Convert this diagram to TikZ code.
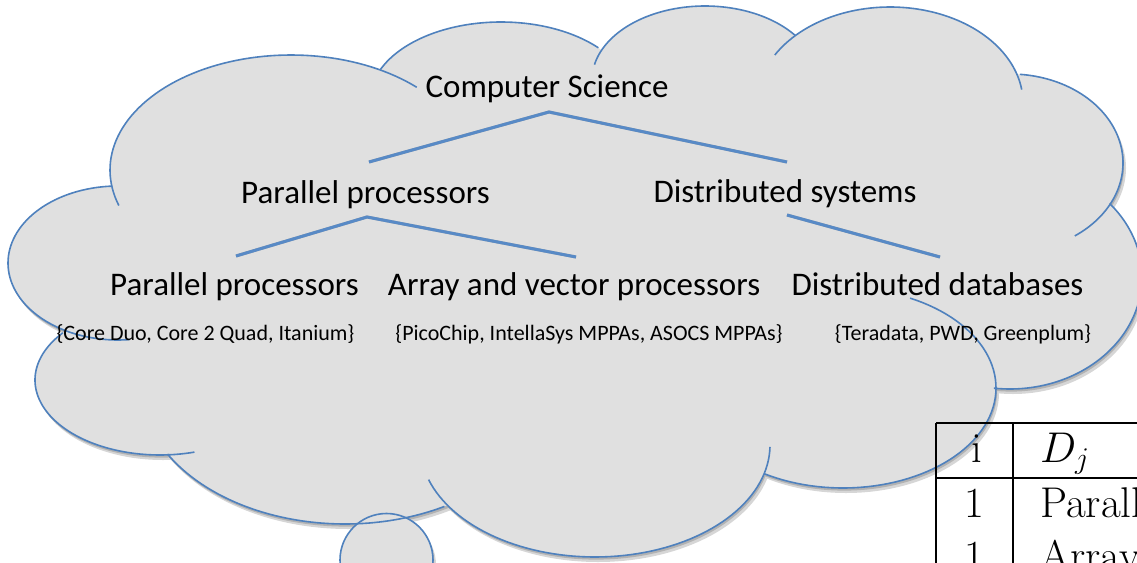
\RequirePackage{fix-cm}
\documentclass[tikz,border=0pt]{standalone}
\usepackage{fontspec}
\newfontfamily\calibri{Carlito}
\definecolor{cloudfill}{RGB}{224,224,224}
\definecolor{cloudline}{RGB}{79,129,189}
\definecolor{treeline}{RGB}{88,138,198}
\definecolor{shadowA}{RGB}{214,214,214}
\definecolor{shadowB}{RGB}{178,178,178}
\tikzset{
  lvl/.style={font=\calibri\fontsize{33}{40}\selectfont, inner sep=0pt, anchor=base},
  sub/.style={font=\calibri\fontsize{22}{26}\selectfont, inner sep=0pt, anchor=base},
  tabtxt/.style={font=\fontsize{43}{51}\selectfont, inner sep=0pt},
  edge/.style={draw=cloudline, line width=1.6pt},
  tree/.style={draw=treeline, line width=3pt},
  treeshadow/.style={draw=black, opacity=0.25, line width=3pt},
  tabline/.style={draw=black, line width=1.3pt}
}
\def\lobes{291/170/181/115/162/314, 501/100/131/78/203/318, 705/80/113/74/192/323, 890/103/133/96/210/352, 1010/163/113/89/-85/55, 1010/277/132/112/-41/97, 843/388/153/100/-64/121, 595/445/175/112/1/162, 345/384/205/140/61/150, 160/380/125/75/74/219, 118/263/110/77/84/267}
\begin{document}
\begin{tikzpicture}[x=1pt,y=-1pt]
\useasboundingbox (0,0) rectangle (1137,562);
\clip (0,0) rectangle (1137,562);
% shadows
\foreach \sx/\sy/\col in {3/5/shadowA, 1.2/2.6/shadowB}{
  \begin{scope}[shift={(\sx,\sy)}]
    \foreach \cx/\cy/\rx/\ry/\a/\b in \lobes {
      \fill[\col] (\cx,\cy) ellipse [x radius=\rx, y radius=\ry];
    }
    \fill[\col] (386.5,560) circle [radius=46.5];
  \end{scope}
}
% cloud fill
\foreach \cx/\cy/\rx/\ry/\a/\b in \lobes {
  \fill[cloudfill] (\cx,\cy) ellipse [x radius=\rx, y radius=\ry];
}
\fill[cloudfill] (291,170) -- (501,100) -- (705,80) -- (890,103) -- (1010,163) -- (1010,277) -- (843,388) -- (595,445) -- (345,384) -- (160,380) -- (118,263) -- cycle;
\fill[cloudfill] (386.5,560) circle [radius=46.5];
% cloud outline arcs
\foreach \cx/\cy/\rx/\ry/\a/\b in \lobes {
  \draw[edge] plot[domain=\a:\b, samples=70, variable=\t] ({\cx+\rx*cos(\t)},{\cy+\ry*sin(\t)});
}
\draw[edge] (386.5,560) circle [radius=46.5];
% texts
\node[lvl] (cs) at (547,97) {Computer Science};
\node[lvl] (pp1) at (365.5,203) {Parallel processors};
\node[lvl] (ds) at (785,202) {Distributed systems};
\node[lvl] (pp2) at (234.5,295) {Parallel processors};
\node[lvl] (av) at (574,295) {Array and vector processors};
\node[lvl] (dd) at (937.5,295) {Distributed databases};
\node[sub] (ex1) at (205.5,340) {\{Core Duo, Core 2 Quad, Itanium\}};
\node[sub] (ex2) at (589,340) {\{PicoChip, IntellaSys MPPAs, ASOCS MPPAs\}};
\node[sub] (ex3) at (963,340) {\{Teradata, PWD, Greenplum\}};
% tree connectors
\coordinate (csA) at (549,112);
\coordinate (csL) at (369,162);
\coordinate (csR) at (787,162);
\coordinate (ppA) at (367,217);
\coordinate (ppL) at (236,256);
\coordinate (ppR) at (576,257);
\coordinate (dsA) at (787,215);
\coordinate (dsR) at (940,257);
\begin{scope}[shift={(1,2.5)}]
  \draw[treeshadow] (csL) -- (csA) -- (csR);
  \draw[treeshadow] (ppL) -- (ppA) -- (ppR);
  \draw[treeshadow] (dsA) -- (dsR);
\end{scope}
\draw[tree] (csL) -- (csA) -- (csR);
\draw[tree] (ppL) -- (ppA) -- (ppR);
\draw[tree] (dsA) -- (dsR);
% table
\coordinate (tTL) at (936,423);
\coordinate (tTR) at (1145,423);
\coordinate (tHL) at (936,478);
\coordinate (tHR) at (1145,478);
\coordinate (tBL) at (936,600);
\coordinate (cT) at (1013,423);
\coordinate (cB) at (1013,600);
\draw[tabline] (tTL) -- (tTR);
\draw[tabline] (tHL) -- (tHR);
\draw[tabline] (tTL) -- (tBL);
\draw[tabline] (cT) -- (cB);
\node[tabtxt, anchor=base] (hi) at (977,462) {i};
\node[tabtxt, anchor=base west] (hd) at (1040,462) {$D_j$};
\node[tabtxt, anchor=base] (r1i) at (974,517) {1};
\node[tabtxt, anchor=base west] (r1d) at (1040,517) {Parallel processors};
\node[tabtxt, anchor=base] (r2i) at (974,570) {1};
\node[tabtxt, anchor=base west] (r2d) at (1040,570) {Array and vector processors};
\end{tikzpicture}
\end{document}
